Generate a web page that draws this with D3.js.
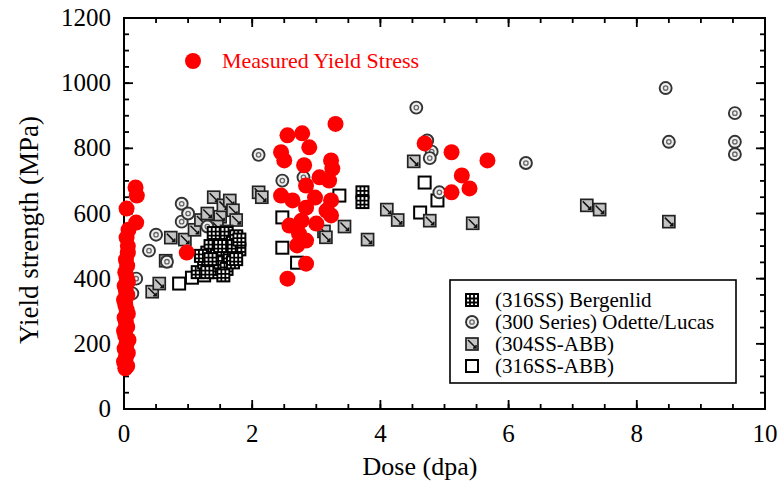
<!DOCTYPE html>
<html>
<head>
<meta charset="utf-8">
<script src="https://cdn.jsdelivr.net/npm/d3@7"></script>
<style>
body{margin:0;background:#fff;}
text{font-family:"Liberation Serif","Times New Roman",serif;}
</style>
</head>
<body>
<div id="chart"></div>
<script>
// dose (dpa), yield strength (MPa)
var bergenlid = [[1.15,420],[1.25,450],[1.3,480],[1.35,500],[1.4,430],[1.45,470],[1.5,520],[1.5,450],
	[1.55,490],[1.6,430],[1.6,540],[1.65,470],[1.7,510],[1.7,450],[1.75,530],[1.8,490],[1.4,540],
	[1.3,420],[1.55,410],[1.2,470],[1.65,500],[1.75,460],[1.35,460],[1.8,520],[1.5,500],[3.72,665],[3.72,635]];
var odette = [[0.19,400],[0.13,355],[0.39,486],[0.5,535],[0.67,452],[0.9,630],[0.9,575],[1.0,600],
	[1.3,560],[2.1,780],[2.47,701],[2.8,711],[4.56,925],[4.73,824],[4.8,790],[4.77,770],[4.92,665],
	[6.27,755],[8.45,985],[8.5,820],[9.53,908],[9.53,820],[9.53,782]];
var abb304 = [[0.44,360],[0.55,385],[0.65,455],[0.73,526],[0.95,520],[1.1,550],[1.2,580],[1.3,600],
	[1.4,650],[1.5,590],[1.55,625],[1.65,640],[1.7,610],[1.75,580],[1.45,560],[1.6,545],[2.1,665],
	[2.15,650],[3.12,545],[3.15,527],[3.44,560],[3.8,520],[4.1,612],[4.27,580],[4.52,760],[4.77,578],
	[5.44,570],[7.22,625],[7.42,612],[8.5,575]];
var abb316 = [[0.86,385],[1.06,403],[1.25,410],[1.4,420],[1.75,525],[2.47,588],[2.47,495],[2.7,449],
	[3.36,655],[4.69,695],[4.89,640],[4.62,603]];
var measured = [[0.02,125],[0.05,132],[0.0,145],[0.03,160],[0.06,172],[0.01,185],[0.04,200],[0.07,212],
	[0.02,225],[0.0,240],[0.05,252],[0.03,265],[0.01,280],[0.06,292],[0.04,305],[0.02,320],[0.0,335],
	[0.05,348],[0.03,362],[0.01,378],[0.06,390],[0.04,405],[0.02,420],[0.05,440],[0.03,458],[0.06,480],
	[0.06,500],[0.04,526],[0.07,550],[0.04,615],[0.19,572],[0.2,655],[0.18,680],
	[0.98,480],
	[3.3,875],[2.55,840],[2.78,846],[2.89,803],[2.45,788],[2.5,763],[2.81,748],[3.23,763],[3.25,738],
	[3.05,711],[3.2,701],[2.84,686],[2.45,655],[2.63,640],[2.98,649],[3.23,640],[2.84,618],[3.16,609],
	[3.23,594],[2.58,563],[2.77,578],[3.0,569],[2.73,538],[2.84,517],[2.7,502],[2.84,446],[2.55,400],
	[4.69,815],[5.11,788],[5.67,763],[5.27,717],[5.39,677],[5.11,665]];

var xTicks = [0,2,4,6,8,10];
var yTicks = [0,200,400,600,800,1000,1200];
var legendLabels = ["(316SS) Bergenlid","(300 Series) Odette/Lucas","(304SS-ABB)","(316SS-ABB)"];
var redLabel = "Measured Yield Stress";

var W = 779, H = 487;
var m = {left:124, right:14, top:18, bottom:78};
var w = W - m.left - m.right, h = H - m.top - m.bottom;

var svg = d3.select("#chart").append("svg").attr("width", W).attr("height", H);
var g = svg.append("g").attr("transform", "translate(" + m.left + "," + m.top + ")");

var x = d3.scaleLinear().domain([0,10]).range([0,w]);
var y = d3.scaleLinear().domain([0,1200]).range([h,0]);

// frame + inward ticks
g.append("rect").attr("width", w).attr("height", h)
	.style("fill","none").style("stroke","#000").style("stroke-width",2);

var xMinor = d3.range(0,10.01,0.5), yMinor = d3.range(0,1201,50);
function tk(vals, len, horiz){
	vals.forEach(function(v){
		if(horiz){
			g.append("line").attr("x1",x(v)).attr("x2",x(v)).attr("y1",h).attr("y2",h-len);
			g.append("line").attr("x1",x(v)).attr("x2",x(v)).attr("y1",0).attr("y2",len);
		}else{
			g.append("line").attr("y1",y(v)).attr("y2",y(v)).attr("x1",0).attr("x2",len);
			g.append("line").attr("y1",y(v)).attr("y2",y(v)).attr("x1",w).attr("x2",w-len);
		}
	});
}
tk(xMinor, 5, true); tk(xTicks, 9, true);
tk(yMinor, 5, false); tk(yTicks, 9, false);
g.selectAll("line").style("stroke","#000").style("stroke-width",1.8);

g.selectAll(".xl").data(xTicks).enter().append("text")
	.attr("x", function(d){ return x(d); }).attr("y", h+33)
	.attr("text-anchor","middle").style("font-size","25px").text(function(d){ return d; });
g.selectAll(".yl").data(yTicks).enter().append("text")
	.attr("x", -13).attr("y", function(d){ return y(d)+8; })
	.attr("text-anchor","end").style("font-size","25px").text(function(d){ return d; });

svg.append("text").attr("x", 420).attr("y", 475)
	.attr("text-anchor","middle").style("font-size","26px").text("Dose (dpa)");
svg.append("text").attr("transform","translate(38,230) rotate(-90)")
	.attr("text-anchor","middle").style("font-size","27px").text("Yield strength (MPa)");

// marker painters
var S = 12;
function sqHash(sel){
	sel.append("rect").attr("x",-S/2).attr("y",-S/2).attr("width",S).attr("height",S)
		.style("fill","#fff").style("stroke","#000").style("stroke-width",2);
	sel.append("path").attr("d","M-2,-6V6M2,-6V6M-6,-1.5H6M-6,2.5H6")
		.style("stroke","#000").style("stroke-width",1.8);
}
function circ(sel){
	sel.append("circle").attr("r",6).style("fill","#eee").style("stroke","#333").style("stroke-width",1.9);
	sel.append("circle").attr("r",2.2).style("fill","none").style("stroke","#666").style("stroke-width",1.3);
}
function sqDiag(sel){
	sel.append("rect").attr("x",-S/2).attr("y",-S/2).attr("width",S).attr("height",S)
		.style("fill","#c4c4c4").style("stroke","#222").style("stroke-width",1.7);
	sel.append("path").attr("d","M-4,-4L4,4M1,4H4V1")
		.style("fill","none").style("stroke","#111").style("stroke-width",1.5);
}
function sqOpen(sel){
	sel.append("rect").attr("x",-S/2).attr("y",-S/2).attr("width",S).attr("height",S)
		.style("fill","#fff").style("stroke","#000").style("stroke-width",2);
}

function plot(data, painter){
	var p = g.append("g").selectAll("g").data(data).enter().append("g")
		.attr("transform", function(d){ return "translate(" + x(d[0]) + "," + y(d[1]) + ")"; });
	painter(p);
}
plot(abb316, sqOpen);
plot(abb304, sqDiag);
plot(odette, circ);
plot(bergenlid, sqHash);

g.append("g").selectAll("circle").data(measured).enter().append("circle")
	.attr("cx", function(d){ return x(d[0]); }).attr("cy", function(d){ return y(d[1]); })
	.attr("r", 8).style("fill","#ff0000");

// red label
svg.append("circle").attr("cx",193).attr("cy",61).attr("r",8).style("fill","#ff0000");
svg.append("text").attr("x",222).attr("y",68).style("font-size","22px").style("fill","#ff0000").text(redLabel);

// legend
var lg = svg.append("g").attr("transform","translate(450,280)");
lg.append("rect").attr("width",286).attr("height",103)
	.style("fill","#fff").style("stroke","#000").style("stroke-width",1.6);
var painters = [sqHash, circ, sqDiag, sqOpen];
legendLabels.forEach(function(t,i){
	var row = lg.append("g").attr("transform","translate(22," + (20 + i*22) + ")");
	painters[i](row.append("g"));
	row.append("text").attr("x",23).attr("y",7).style("font-size","21px").text(t);
});
</script>
</body>
</html>
